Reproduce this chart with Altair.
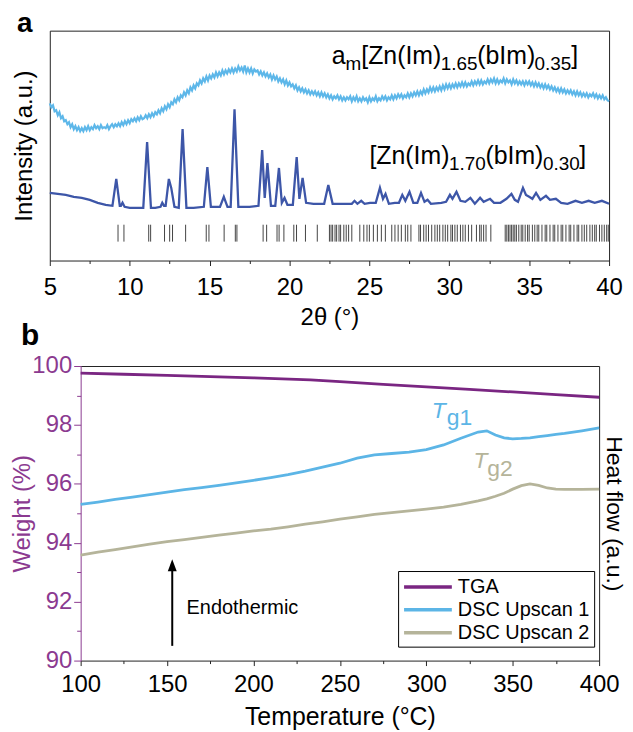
import altair as alt
import numpy as np
import pandas as pd

FONT = "Liberation Sans"
PURPLE_AX = "#8B3A90"
FRAME = "#222222"
C_TGA = "#7A2682"
C_DSC1 = "#5CB5E6"
C_DSC2 = "#B5B49A"
C_AM = "#5DB7E9"
C_CR = "#3D56A8"

# ---------------- panel a : PXRD ----------------
am_two_theta = np.round(np.arange(5.0, 40.001, 0.1), 1)
am_intensity = [
    158, 154, 156, 150, 151, 146, 149, 143, 145, 140,
    141, 137, 139, 134, 137, 132, 135, 131, 134, 130,
    133, 130, 134, 131, 135, 131, 134, 132, 136, 133,
    135, 132, 136, 133, 134, 133, 136, 132, 135, 137,
    134, 137, 135, 138, 135, 139, 136, 140, 137, 141,
    138, 142, 140, 143, 140, 144, 141, 145, 142, 143,
    146, 143, 147, 144, 148, 145, 149, 147, 151, 148,
    153, 150, 155, 152, 157, 154, 159, 157, 162, 159,
    164, 161, 166, 164, 169, 166, 171, 168, 174, 171,
    176, 173, 178, 176, 181, 178, 183, 180, 185, 181,
    186, 183, 187, 184, 189, 185, 189, 186, 191, 187,
    191, 188, 192, 189, 193, 189, 193, 190, 195, 191,
    194, 190, 196, 189, 193, 189, 193, 188, 192, 190,
    191, 187, 190, 186, 189, 185, 188, 184, 187, 182,
    186, 182, 185, 180, 183, 179, 182, 177, 181, 176,
    179, 175, 177, 173, 176, 171, 174, 170, 173, 169,
    172, 168, 171, 167, 170, 167, 170, 166, 169, 165,
    169, 165, 168, 164, 167, 163, 166, 162, 165, 163,
    166, 162, 165, 161, 164, 161, 164, 162, 165, 160,
    164, 161, 165, 160, 163, 160, 164, 161, 163, 159,
    164, 160, 163, 161, 165, 160, 163, 161, 165, 162,
    165, 161, 164, 162, 166, 162, 166, 163, 167, 164,
    167, 163, 166, 164, 168, 164, 168, 165, 169, 166,
    170, 166, 170, 167, 172, 168, 172, 169, 174, 170,
    174, 170, 174, 171, 175, 171, 176, 172, 177, 173,
    177, 173, 177, 174, 178, 174, 178, 175, 179, 175,
    179, 175, 178, 176, 180, 176, 180, 177, 181, 177,
    181, 177, 180, 178, 182, 178, 182, 179, 183, 178,
    182, 178, 181, 179, 183, 178, 182, 179, 181, 177,
    182, 178, 181, 177, 180, 177, 180, 176, 180, 177,
    180, 176, 179, 175, 179, 175, 178, 174, 177, 173,
    177, 173, 176, 172, 175, 171, 174, 170, 173, 169,
    173, 169, 172, 168, 171, 168, 171, 167, 170, 166,
    170, 166, 169, 165, 168, 165, 168, 164, 167, 165,
    168, 164, 167, 163, 166, 163, 166, 162, 164, 161,
    160]

cr_two_theta = [5.0, 5.5, 6.0, 6.5, 7.0, 7.5, 8.0, 8.5, 8.92, 9.16, 9.38, 9.45, 9.55, 9.68,
                10.0, 10.5, 10.85, 11.09, 11.33, 11.6, 11.93, 12.04, 12.15, 12.25, 12.45, 12.6,
                12.8, 13.07, 13.31, 13.55, 14.0, 14.64, 14.86, 15.08, 15.65, 15.89, 16.12, 16.32,
                16.56, 16.8, 17.5, 18.06, 18.29, 18.45, 18.62, 18.84, 19.11, 19.34, 19.52, 19.69,
                19.87, 20.21, 20.45, 20.62, 20.82, 21.04, 21.5, 22.17, 22.43, 22.7, 23.5, 23.9,
                24.07, 24.25, 24.49, 24.7, 25.04, 25.4, 25.66, 25.85, 26.01, 26.22, 26.59, 26.85,
                27.06, 27.25, 27.51, 27.75, 28.0, 28.23, 28.45, 28.64, 28.85, 29.5, 29.8, 30.04,
                30.2, 30.45, 30.7, 31.0, 31.32, 31.6, 31.93, 32.15, 32.55, 32.8, 33.2, 33.58,
                33.89, 34.1, 34.3, 34.61, 34.8, 35.0, 35.2, 35.43, 35.7, 36.05, 36.3, 36.67,
                37.0, 37.4, 37.9, 38.3, 38.72, 39.1, 39.55, 40.0]
cr_intensity = [68, 67, 66, 64, 63, 61, 58, 56, 55, 82, 55, 55, 58, 54,
                53, 53, 53, 119, 53, 53, 54, 58, 55, 55, 82, 73,
                54, 53, 132, 53, 53, 54, 94, 54, 54, 64, 54, 54,
                152, 54, 54, 55, 111, 63, 98, 55, 55, 93, 58, 63,
                56, 56, 104, 62, 83, 58, 57, 57, 76, 57, 57, 57,
                60, 57, 60, 57, 58, 58, 73, 62, 67, 57, 58, 58,
                66, 60, 69, 58, 58, 68, 59, 61, 57, 58, 59, 66,
                62, 69, 60, 59, 63, 57, 63, 59, 62, 58, 58, 62,
                67, 61, 59, 73, 66, 64, 62, 68, 61, 65, 61, 62,
                58, 57, 60, 58, 60, 58, 60, 57]

refl_two_theta = [9.27, 9.64, 11.19, 11.31, 12.18, 12.50, 12.68, 13.50, 14.79, 14.96, 15.91,
                  16.61, 16.71, 18.35, 18.57, 19.22, 19.35, 19.65, 20.27, 20.44, 21.00, 21.74,
                  22.5, 22.6, 22.7, 22.85, 22.95, 23.1, 23.2, 23.4, 23.55, 23.7, 23.9, 24.4,
                  24.65, 24.85, 25.0, 25.25, 25.5, 25.75, 26.0, 26.4, 26.6, 26.8, 27.0, 27.25,
                  27.4, 27.6, 28.1, 28.2, 28.4, 28.55, 28.7, 28.9, 29.1, 29.25, 29.4, 29.6,
                  29.75, 29.9, 30.1, 30.2, 30.35, 30.5, 30.7, 30.85, 31.0, 31.2, 31.4, 31.7,
                  31.9, 32.0, 32.15, 32.3, 32.6, 33.5, 33.6, 33.7, 33.8, 33.9, 34.0, 34.1,
                  34.2, 34.35, 34.5, 34.6, 34.75, 34.9, 35.0, 35.2, 35.35, 35.5, 35.6, 35.8,
                  36.0, 36.1, 36.3, 36.5, 36.6, 36.8, 37.0, 37.1, 37.3, 37.5, 37.6, 37.8,
                  38.0, 38.1, 38.3, 38.45, 38.6, 38.8, 38.95, 39.1, 39.2, 39.4, 39.55, 39.7,
                  39.85, 39.95]

# formula labels (main-size segments and subscript segments)
lab_main_text = ["a", "[Zn(Im)", "(bIm)", "]", "[Zn(Im)", "(bIm)", "]"]
lab_main_tt = [22.65, 24.49, 31.75, 37.63, 25.0, 32.26, 38.14]
lab_main_I = [197, 197, 197, 197, 97, 97, 97]
lab_sub_text = ["m", "1.65", "0.35", "1.70", "0.30"]
lab_sub_tt = [23.51, 29.46, 35.34, 29.98, 35.86]
lab_sub_I = [191, 191, 191, 91, 91]

# ---------------- panel b : TGA / DSC ----------------
tga_T = [100, 125, 150, 175, 200, 233, 250, 275, 300, 325, 350, 375, 400]
tga_weight = [99.76, 99.72, 99.68, 99.64, 99.60, 99.53, 99.47, 99.38, 99.29, 99.21, 99.12,
              99.03, 98.94]
dsc_T = [100, 110, 120, 130, 140, 150, 160, 170, 180, 190, 200, 210, 220, 230, 240, 250,
         260, 270, 280, 290, 300, 310, 320, 330, 335, 340, 345, 350, 355, 360, 365, 370,
         375, 380, 390, 400]
dsc_up1 = [95.30, 95.38, 95.47, 95.55, 95.63, 95.72, 95.80, 95.87, 95.95, 96.03, 96.12,
           96.21, 96.31, 96.43, 96.57, 96.70, 96.87, 96.98, 97.03, 97.08, 97.16, 97.32,
           97.55, 97.76, 97.80, 97.66, 97.56, 97.53, 97.54, 97.56, 97.60, 97.64, 97.68,
           97.71, 97.80, 97.90]
dsc_up2 = [93.58, 93.68, 93.77, 93.86, 93.95, 94.04, 94.11, 94.18, 94.26, 94.33, 94.40,
           94.46, 94.54, 94.63, 94.71, 94.80, 94.88, 94.96, 95.02, 95.08, 95.14, 95.21,
           95.30, 95.42, 95.49, 95.58, 95.68, 95.82, 95.94, 96.00, 95.95, 95.86, 95.82,
           95.81, 95.81, 95.82]
series_names = ["TGA", "DSC Upscan 1", "DSC Upscan 2"]

tg_sub_text = ["g1", "g2"]
tg_T_x = [303.2, 327.3]
tg_T_y = [98.24, 96.55]
tg_sub_x = [311.8, 335.3]
tg_sub_y = [98.01, 96.28]

# ================= panel a chart =================
W_A, H_A = 562, 231
xs_a = alt.Scale(domain=[5, 40], nice=False, zero=False)
ys_a = alt.Scale(domain=[0, 231], nice=False, zero=False)

df_am = pd.DataFrame({"tt": am_two_theta, "I": am_intensity})
df_cr = pd.DataFrame({"tt": cr_two_theta, "I": cr_intensity})
df_ref = pd.DataFrame({"tt": refl_two_theta})
df_lm = pd.DataFrame({"t": lab_main_text, "tt": lab_main_tt, "I": lab_main_I})
df_ls = pd.DataFrame({"t": lab_sub_text, "tt": lab_sub_tt, "I": lab_sub_I})

frame_top = alt.Axis(orient="top", labels=False, ticks=False, title=None, grid=False,
                     domainColor=FRAME)
frame_right = alt.Axis(orient="right", labels=False, ticks=False, title=None, grid=False,
                       domainColor=FRAME)

x_major_a = alt.Axis(values=list(range(5, 41, 5)), title="2θ (°)", orient="bottom",
                     labelFontSize=24, titleFontSize=24, tickSize=5, labelPadding=10,
                     titlePadding=6, labelFlush=False, grid=False, labelColor="black",
                     titleColor="black", domainColor=FRAME, tickColor=FRAME)
x_minor_a = alt.Axis(values=[7.5, 12.5, 17.5, 22.5, 27.5, 32.5, 37.5], labels=False,
                     domain=False, tickSize=3, title=None, orient="bottom", grid=False,
                     tickColor=FRAME)
y_axis_a = alt.Axis(title="Intensity (a.u.)", labels=False, ticks=False, orient="left",
                    titleFontSize=24, titlePadding=13, domainColor=FRAME, grid=False,
                    titleColor="black")

am_line = alt.Chart(df_am).mark_line(color=C_AM, strokeWidth=2.2).encode(
    x=alt.X("tt:Q", scale=xs_a, axis=x_major_a),
    y=alt.Y("I:Q", scale=ys_a, axis=y_axis_a),
)
cr_line = alt.Chart(df_cr).mark_line(color=C_CR, strokeWidth=2.3).encode(
    x=alt.X("tt:Q", scale=xs_a, axis=x_minor_a),
    y=alt.Y("I:Q", scale=ys_a, axis=None),
)
ref_rules = alt.Chart(df_ref).mark_rule(color="#222222", strokeWidth=1, opacity=0.85).encode(
    x=alt.X("tt:Q", scale=xs_a, axis=None),
    y=alt.YDatum(36, type="quantitative", scale=ys_a, axis=None),
    y2=alt.Y2Datum(19),
)
lab_main = alt.Chart(df_lm).mark_text(align="left", baseline="alphabetic", fontSize=25,
                                      font=FONT, color="black").encode(
    x=alt.X("tt:Q", scale=xs_a, axis=frame_top),
    y=alt.Y("I:Q", scale=ys_a, axis=frame_right),
    text="t:N",
)
lab_sub = alt.Chart(df_ls).mark_text(align="left", baseline="alphabetic", fontSize=19,
                                     font=FONT, color="black").encode(
    x=alt.X("tt:Q", scale=xs_a, axis=None),
    y=alt.Y("I:Q", scale=ys_a, axis=None),
    text="t:N",
)
letter_a = alt.Chart(pd.DataFrame({"t": ["a"]})).mark_text(
    align="left", baseline="alphabetic", fontSize=28, fontWeight="bold", font=FONT,
    color="black").encode(x=alt.value(-33), y=alt.value(1), text="t:N")
letter_b = alt.Chart(pd.DataFrame({"t": ["b"]})).mark_text(
    align="left", baseline="alphabetic", fontSize=30, fontWeight="bold", font=FONT,
    color="black").encode(x=alt.value(-29), y=alt.value(316), text="t:N")

top = alt.layer(am_line, cr_line, ref_rules, lab_main, lab_sub, letter_a, letter_b).resolve_axis(
    x="independent", y="independent").properties(width=W_A, height=H_A)

# ================= panel b chart =================
# the plot area of panel b starts 31 px to the right of panel a's
B_LEFT, B_RIGHT, H_B = 31, 552, 296
xs_b = alt.Scale(domain=[100, 400], nice=False, zero=False, range=[B_LEFT, B_RIGHT])
ys_b = alt.Scale(domain=[90, 100], nice=False, zero=False)

df_b = pd.concat([
    pd.DataFrame({"T": tga_T, "v": tga_weight, "s": "TGA"}),
    pd.DataFrame({"T": dsc_T, "v": dsc_up1, "s": "DSC Upscan 1"}),
    pd.DataFrame({"T": dsc_T, "v": dsc_up2, "s": "DSC Upscan 2"}),
], ignore_index=True)

x_major_b = alt.Axis(values=list(range(100, 401, 50)), title="Temperature (°C)",
                     orient="bottom", labelFontSize=24, titleFontSize=25, tickSize=5,
                     labelPadding=7, titlePadding=8, labelFlush=False, grid=False,
                     labelColor="black", titleColor="black", domainColor=FRAME,
                     tickColor=FRAME)
x_minor_b = alt.Axis(values=list(range(125, 400, 50)), labels=False, domain=False,
                     tickSize=3, title=None, orient="bottom", grid=False, tickColor=FRAME)
x_frame_b = alt.Axis(orient="top", labels=False, ticks=False, title=None, grid=False,
                     domainColor=FRAME)
y_left_b = alt.Axis(values=[90, 92, 94, 96, 98, 100], title="Weight (%)", orient="left",
                    offset=-B_LEFT, labelFontSize=24, titleFontSize=24, tickSize=7,
                    labelPadding=2, titlePadding=-3, domainColor=PURPLE_AX,
                    tickColor=PURPLE_AX, labelColor=PURPLE_AX, titleColor=PURPLE_AX,
                    grid=False)
y_minor_b = alt.Axis(values=[91, 93, 95, 97, 99], labels=False, domain=False, tickSize=4,
                     tickColor=PURPLE_AX, orient="left", offset=-B_LEFT, title=None,
                     grid=False)
y_right_b = alt.Axis(orient="right", labels=False, ticks=False, title="Heat flow (a.u.)",
                     titleFontSize=23, titlePadding=2, domainColor=FRAME,
                     titleColor="black", grid=False)

lines_b = alt.Chart(df_b).mark_line(strokeWidth=2.8).encode(
    x=alt.X("T:Q", scale=xs_b, axis=x_major_b),
    y=alt.Y("v:Q", scale=ys_b, axis=y_left_b),
    color=alt.Color("s:N", scale=alt.Scale(domain=series_names,
                                           range=[C_TGA, C_DSC1, C_DSC2]),
                    legend=alt.Legend(title=None, orient="none", legendX=350, legendY=206,
                                      direction="vertical", symbolType="M-1,0H3.8",
                                      symbolSize=400, symbolStrokeWidth=3.5,
                                      labelFontSize=20, labelFont=FONT, labelColor="black",
                                      labelOffset=32, strokeColor="black", padding=4,
                                      rowPadding=1, fillColor="white", labelLimit=300)),
)
arrow_shaft = alt.Chart(pd.DataFrame({"k": [0]})).mark_rule(color="black", strokeWidth=2).encode(
    x=alt.XDatum(153, type="quantitative", scale=xs_b, axis=x_minor_b),
    y=alt.YDatum(90.5, type="quantitative", scale=ys_b, axis=y_right_b),
    y2=alt.Y2Datum(93.1),
)
arrow_head = alt.Chart(pd.DataFrame({"k": [0]})).mark_point(
    shape="M0,-1L-0.45,0.2L0.45,0.2Z", filled=True, color="black", size=400, opacity=1).encode(
    x=alt.XDatum(153, type="quantitative", scale=xs_b, axis=x_frame_b),
    y=alt.YDatum(93.1, type="quantitative", scale=ys_b, axis=y_minor_b),
)
endo = alt.Chart(pd.DataFrame({"t": ["Endothermic"]})).mark_text(
    align="left", baseline="middle", fontSize=20, font=FONT, color="black").encode(
    x=alt.XDatum(161.3, type="quantitative", scale=xs_b, axis=None),
    y=alt.YDatum(91.79, type="quantitative", scale=ys_b, axis=None),
    text="t:N",
)
tg_layers = []
for i, col in enumerate([C_DSC1, C_DSC2]):
    tg_layers.append(alt.Chart(pd.DataFrame({"t": ["T"]})).mark_text(
        align="left", baseline="alphabetic", fontSize=23, fontStyle="italic", font=FONT,
        color=col).encode(
        x=alt.XDatum(tg_T_x[i], type="quantitative", scale=xs_b, axis=None),
        y=alt.YDatum(tg_T_y[i], type="quantitative", scale=ys_b, axis=None),
        text="t:N"))
    tg_layers.append(alt.Chart(pd.DataFrame({"t": [tg_sub_text[i]]})).mark_text(
        align="left", baseline="alphabetic", fontSize=23, font=FONT, color=col).encode(
        x=alt.XDatum(tg_sub_x[i], type="quantitative", scale=xs_b, axis=None),
        y=alt.YDatum(tg_sub_y[i], type="quantitative", scale=ys_b, axis=None),
        text="t:N"))

bottom = alt.layer(lines_b, arrow_shaft, arrow_head, endo, *tg_layers).resolve_axis(
    x="independent", y="independent").properties(width=B_RIGHT, height=H_B)

chart = alt.vconcat(top, bottom, spacing=3).resolve_legend(color="independent").properties(
    padding={"left": 2, "top": 0, "right": 1, "bottom": 0}
).configure_view(strokeWidth=0, stroke="transparent").configure_axis(
    labelFont=FONT, titleFont=FONT, titleFontWeight="normal", domainWidth=1, tickWidth=1,
    grid=False
).configure_text(font=FONT)

chart.save("out.html", embed_options={"renderer": "svg", "actions": False})
